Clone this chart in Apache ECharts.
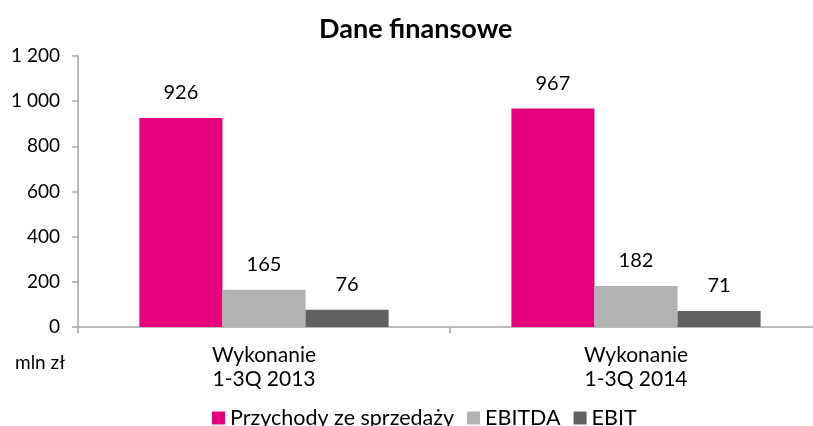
<!DOCTYPE html>
<html>
<head>
<meta charset="utf-8">
<script src="https://cdn.jsdelivr.net/npm/echarts@6/dist/echarts.min.js"></script>
<style>
  html, body { margin: 0; padding: 0; background: #fff; }
  #chart { width: 813px; height: 426px; }
</style>
</head>
<body>
<div id="chart"></div>
<script>
const categories = ["Wykonanie\n1-3Q 2013", "Wykonanie\n1-3Q 2014"];
const seriesNames = ["Przychody ze sprzedaży", "EBITDA", "EBIT"];
const przychody = [926, 967];
const ebitda = [165, 182];
const ebit = [76, 71];
const yTicks = [0, 200, 400, 600, 800, 1000, 1200];

const FONT = "Lato";
const colors = ["#e6007e", "#b2b2b2", "#606060"];

const myChart = echarts.init(document.getElementById("chart"));

// separator tysięcy jako spacja
const fmt = (v) => String(v).replace(/\B(?=(\d{3})+(?!\d))/g, " ");

const label = {
  show: true,
  position: "top",
  distance: 15,
  fontFamily: FONT,
  fontSize: 20,
  color: "#000",
};

const option = {
  animation: false,
  color: colors,
  title: {
    text: "Dane finansowe",
    left: 314,
    top: 11,
    textStyle: { fontFamily: FONT, fontSize: 27, fontWeight: "bold", color: "#000" },
  },
  legend: {
    data: seriesNames,
    top: 402,
    left: 207,
    itemWidth: 13,
    itemHeight: 13,
    itemGap: 13,
    icon: "rect",
    textStyle: { fontFamily: FONT, fontSize: 21.5, color: "#000" },
  },
  graphic: [
    {
      type: "text",
      left: 15,
      top: 353,
      style: { text: "mln zł", font: "19px " + FONT, fill: "#000" },
    },
  ],
  grid: { left: 78, width: 744, top: 56, bottom: 99, outerBoundsMode: "none" },
  xAxis: {
    type: "category",
    data: categories,
    axisLine: { lineStyle: { color: "#a6a6a6", width: 1.5 } },
    axisTick: { show: true, length: 6, lineStyle: { color: "#a6a6a6", width: 1.5 } },
    axisLabel: { fontFamily: FONT, fontSize: 21, color: "#000", lineHeight: 24, margin: 16 },
  },
  yAxis: {
    type: "value",
    min: yTicks[0],
    max: yTicks[yTicks.length - 1],
    interval: 200,
    splitLine: { show: false },
    axisLine: { show: true, lineStyle: { color: "#a6a6a6", width: 1.5 } },
    axisTick: { show: true, length: 6, lineStyle: { color: "#a6a6a6", width: 1.5 } },
    axisLabel: { fontFamily: FONT, fontSize: 19, color: "#000", margin: 18, formatter: fmt },
  },
  series: [
    { type: "bar", name: seriesNames[0], data: przychody, barGap: 0, barCategoryGap: "33%", label },
    { type: "bar", name: seriesNames[1], data: ebitda, barGap: 0, barCategoryGap: "33%", label },
    { type: "bar", name: seriesNames[2], data: ebit, barGap: 0, barCategoryGap: "33%", label },
  ],
};

myChart.setOption(option);
window.addEventListener("resize", function () {
  myChart.resize();
});
</script>
</body>
</html>
